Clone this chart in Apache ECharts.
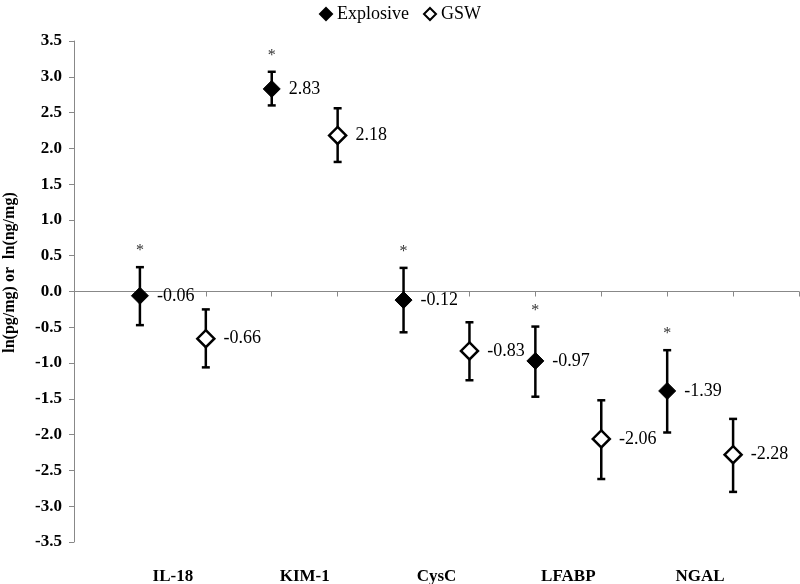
<!DOCTYPE html>
<html>
<head>
<meta charset="utf-8">
<script src="https://cdn.jsdelivr.net/npm/echarts@6/dist/echarts.min.js"></script>
<style>html,body{margin:0;padding:0;background:#fff}#c{width:800px;height:584px}</style>
</head>
<body>
<div id="c"></div>
<script>
var categories = ['IL-18', 'KIM-1', 'CysC', 'LFABP', 'NGAL'];
var explosive = [-0.06, 2.83, -0.12, -0.97, -1.39];
var explosiveLow = [-0.47, 2.60, -0.57, -1.47, -1.97];
var explosiveHigh = [0.34, 3.07, 0.33, -0.49, -0.82];
var gsw = [-0.66, 2.18, -0.83, -2.06, -2.28];
var gswLow = [-1.06, 1.81, -1.24, -2.62, -2.80];
var gswHigh = [-0.25, 2.56, -0.43, -1.52, -1.78];
var significant = [true, true, true, true, true];
var yTicks = [-3.5, -3.0, -2.5, -2.0, -1.5, -1.0, -0.5, 0.0, 0.5, 1.0, 1.5, 2.0, 2.5, 3.0, 3.5];

var FONT = '"Liberation Serif", "Times New Roman", serif';

function xPos(i, s) { return i * 2 + 1 + s; }

var expPts = explosive.map(function (v, i) { return [xPos(i, 0), v]; });
var gswPts = gsw.map(function (v, i) { return [xPos(i, 1), v]; });
var expErr = explosive.map(function (v, i) { return [xPos(i, 0), explosiveLow[i], explosiveHigh[i], significant[i] ? 1 : 0]; });
var gswErr = gsw.map(function (v, i) { return [xPos(i, 1), gswLow[i], gswHigh[i], 0]; });
var catPos = categories.map(function (c, i) { return i * 2 + 1.5; });

function renderErr(params, api) {
  var x = api.value(0);
  var lo = api.coord([x, api.value(1)]);
  var hi = api.coord([x, api.value(2)]);
  var cap = 4;
  var style = { stroke: '#000', lineWidth: 2.5 };
  var children = [
    { type: 'line', shape: { x1: lo[0], y1: lo[1], x2: hi[0], y2: hi[1] }, style: style },
    { type: 'line', shape: { x1: lo[0] - cap, y1: lo[1], x2: lo[0] + cap, y2: lo[1] }, style: style },
    { type: 'line', shape: { x1: hi[0] - cap, y1: hi[1], x2: hi[0] + cap, y2: hi[1] }, style: style }
  ];
  if (api.value(3)) {
    children.push({
      type: 'text',
      style: { text: '*', x: hi[0], y: hi[1] - 8, align: 'center', verticalAlign: 'bottom',
               font: '16px ' + FONT, fill: '#333' }
    });
  }
  return { type: 'group', children: children };
}

var chart = echarts.init(document.getElementById('c'), null, { renderer: 'canvas' });
chart.setOption({
  animation: false,
  backgroundColor: '#fff',
  legend: {
    top: 0,
    left: 'center',
    itemWidth: 12,
    itemHeight: 12,
    itemGap: 14,
    data: ['Explosive', 'GSW'],
    textStyle: { fontFamily: FONT, fontSize: 18, color: '#000' }
  },
  grid: { left: 74, right: 1, top: 41, bottom: 42, containLabel: false, outerBoundsMode: 'none' },
  xAxis: [
    {
      type: 'value', min: 0, max: 11, interval: 1,
      axisLine: { onZero: true, lineStyle: { color: '#888', width: 1 } },
      axisTick: { show: true, length: 5, lineStyle: { color: '#888' } },
      axisLabel: { show: false },
      splitLine: { show: false }
    },
    {
      type: 'value', min: 0, max: 11, position: 'bottom',
      axisLine: { show: false, onZero: false },
      axisTick: { show: false },
      splitLine: { show: false },
      axisLabel: {
        customValues: catPos,
        margin: 26,
        fontFamily: FONT, fontSize: 17, fontWeight: 'bold', color: '#000',
        formatter: function (v) { return categories[Math.round((v - 1.5) / 2)]; }
      }
    }
  ],
  yAxis: {
    type: 'value', min: -3.5, max: 3.5, interval: 0.5,
    axisLine: { show: true, lineStyle: { color: '#888' } },
    axisTick: { show: true, length: 5, lineStyle: { color: '#888' } },
    splitLine: { show: false },
    axisLabel: {
      margin: 12, fontFamily: FONT, fontSize: 17, fontWeight: 'bold', color: '#000',
      customValues: yTicks,
      formatter: function (v) { return Number(v).toFixed(1); }
    },
    name: 'ln(pg/mg) or  ln(ng/mg)',
    nameLocation: 'middle',
    nameRotate: 90,
    nameGap: 56,
    nameTextStyle: { fontFamily: FONT, fontSize: 16, fontWeight: 'bold', color: '#000', padding: [0, 0, 0, 38] }
  },
  series: [
    { name: 'errExp', type: 'custom', renderItem: renderErr, data: expErr, z: 2, silent: true,
      encode: { x: 0, y: [1, 2] } },
    { name: 'errGsw', type: 'custom', renderItem: renderErr, data: gswErr, z: 2, silent: true,
      encode: { x: 0, y: [1, 2] } },
    {
      name: 'Explosive', type: 'scatter', symbol: 'diamond', symbolSize: 17, z: 5,
      itemStyle: { color: '#000', borderColor: '#000', borderWidth: 1, opacity: 1 },
      label: { show: true, position: 'right', distance: 8, fontFamily: FONT, fontSize: 18, color: '#000',
               formatter: function (p) { return p.value[1].toFixed(2); } },
      data: expPts
    },
    {
      name: 'GSW', type: 'scatter', symbol: 'diamond', symbolSize: 17, z: 5,
      itemStyle: { color: '#fff', borderColor: '#000', borderWidth: 2.5, opacity: 1 },
      label: { show: true, position: 'right', distance: 8, fontFamily: FONT, fontSize: 18, color: '#000',
               formatter: function (p) { return p.value[1].toFixed(2); } },
      data: gswPts
    }
  ]
});
</script>
</body>
</html>
